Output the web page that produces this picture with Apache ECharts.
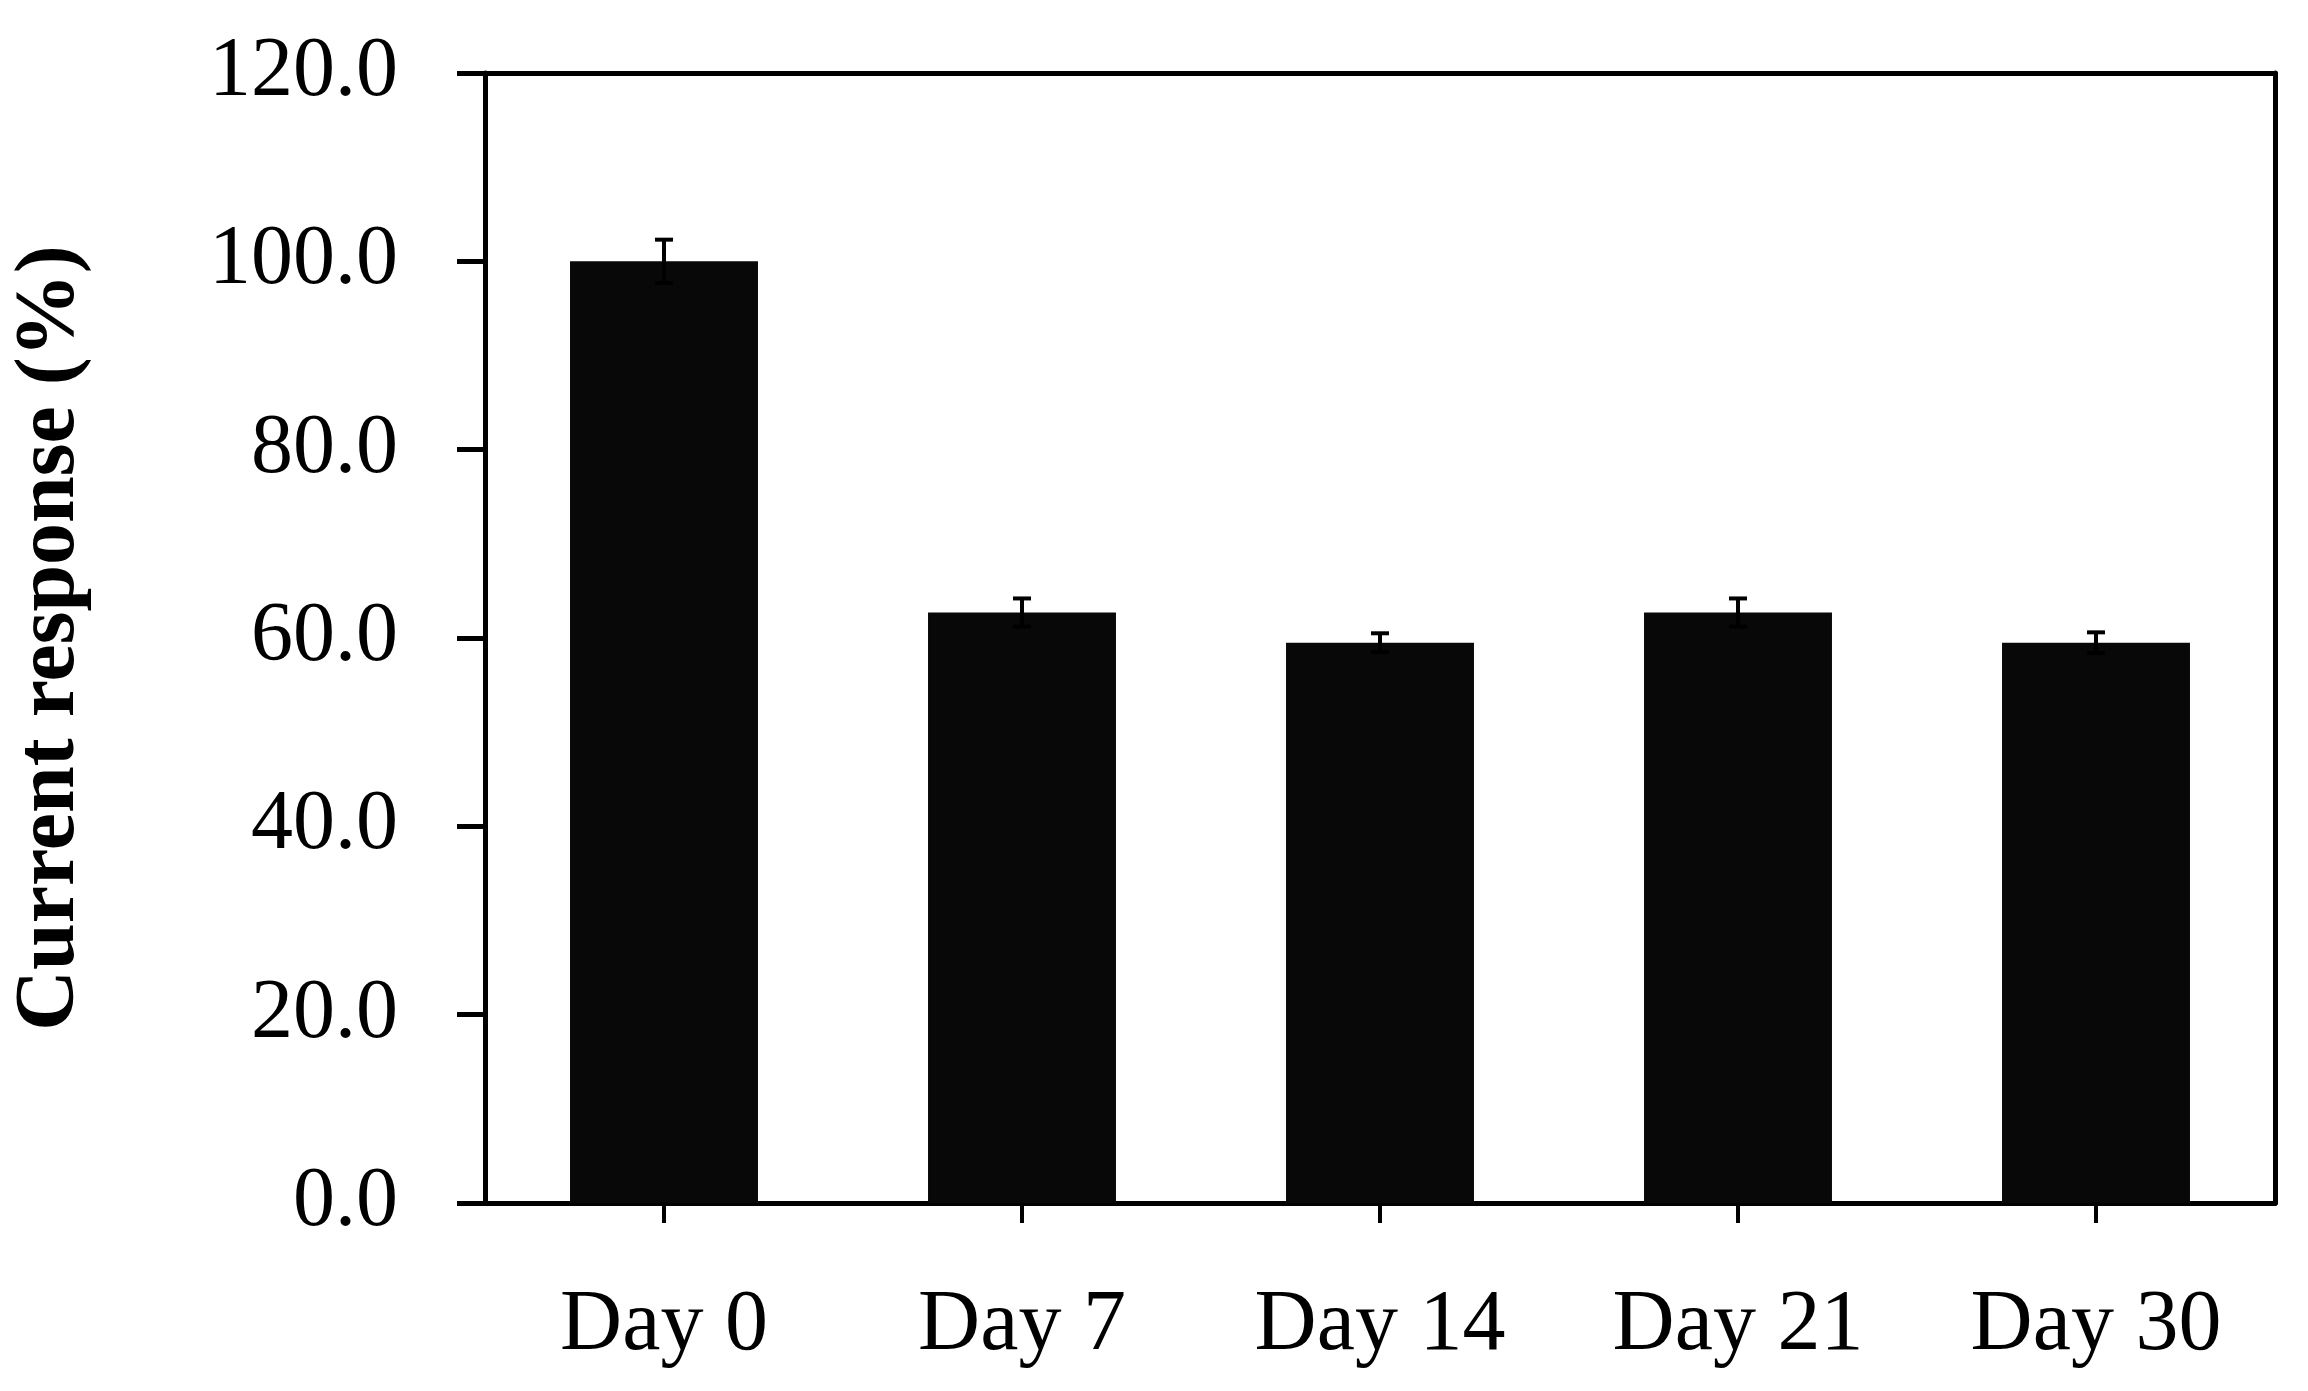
<!DOCTYPE html>
<html>
<head>
<meta charset="utf-8">
<title>Current response</title>
<script src="https://cdn.jsdelivr.net/npm/echarts@6/dist/echarts.min.js"></script>
<style>
  html, body { margin: 0; padding: 0; background: #fff; }
  #chart { width: 2308px; height: 1391px; }
</style>
</head>
<body>
<div id="chart"></div>
<script>
const days = ['Day 0', 'Day 7', 'Day 14', 'Day 21', 'Day 30'];
const response = [100.0, 62.7, 59.5, 62.7, 59.5];
const errors = [2.3, 1.5, 1.0, 1.5, 1.1];
const yTicks = [0, 20, 40, 60, 80, 100, 120];

const myChart = echarts.init(document.getElementById('chart'));
const font = "'Liberation Serif', 'Times New Roman', serif";

// error bar: vertical line + cap at the top (lower half hidden in the bar)
const errorBar = (params, api) => {
  const i = api.value(0);
  const hi = api.coord([i, api.value(1) + api.value(2)]);
  const lo = api.coord([i, api.value(1) - api.value(2)]);
  const cap = 9;
  const st = { stroke: '#000', lineWidth: 4 };
  return {
    type: 'group',
    children: [
      { type: 'line', shape: { x1: hi[0], y1: hi[1], x2: lo[0], y2: lo[1] }, style: st },
      { type: 'line', shape: { x1: hi[0] - cap, y1: hi[1], x2: hi[0] + cap, y2: hi[1] }, style: st },
      { type: 'line', shape: { x1: lo[0] - cap, y1: lo[1], x2: lo[0] + cap, y2: lo[1] }, style: st }
    ]
  };
};

let option = {
  animation: false,
  backgroundColor: '#fff',
  grid: { left: 485, right: 33, top: 73, bottom: 188, containLabel: false },
  xAxis: [
    {
      type: 'category',
      data: days,
      position: 'bottom',
      axisLine: { show: true, onZero: false, lineStyle: { color: '#000', width: 5 } },
      axisTick: { show: true, alignWithLabel: true, length: 20, lineStyle: { color: '#000', width: 4 } },
      axisLabel: { color: '#000', fontFamily: font, fontSize: 86, margin: 80 },
      splitLine: { show: false }
    },
    {
      type: 'category',
      data: days,
      position: 'top',
      axisLine: { show: true, onZero: false, lineStyle: { color: '#000', width: 5 } },
      axisTick: { show: false },
      axisLabel: { show: false }
    }
  ],
  yAxis: [
    {
      type: 'value',
      min: yTicks[0],
      max: yTicks[yTicks.length - 1],
      interval: 20,
      name: 'Current response (%)',
      nameLocation: 'middle',
      nameGap: 392,
      nameTextStyle: { color: '#000', fontFamily: font, fontSize: 84, fontWeight: 'bold' },
      axisLine: { show: true, onZero: false, lineStyle: { color: '#000', width: 5 } },
      axisTick: { show: true, inside: false, length: 28, lineStyle: { color: '#000', width: 5 } },
      axisLabel: {
        color: '#000', fontFamily: font, fontSize: 84, margin: 87,
        formatter: (v) => v.toFixed(1)
      },
      splitLine: { show: false }
    },
    {
      type: 'value',
      min: yTicks[0],
      max: yTicks[yTicks.length - 1],
      interval: 20,
      position: 'right',
      axisLine: { show: true, onZero: false, lineStyle: { color: '#000', width: 5 } },
      axisTick: { show: false },
      axisLabel: { show: false },
      splitLine: { show: false }
    }
  ],
  series: [
    {
      type: 'bar',
      data: response,
      barWidth: '52.5%',
      itemStyle: { color: '#080808' },
      z: 2
    },
    {
      type: 'custom',
      renderItem: errorBar,
      data: response.map((v, i) => [i, v, errors[i]]),
      z: 3
    }
  ]
};

myChart.setOption(option);
</script>
</body>
</html>
